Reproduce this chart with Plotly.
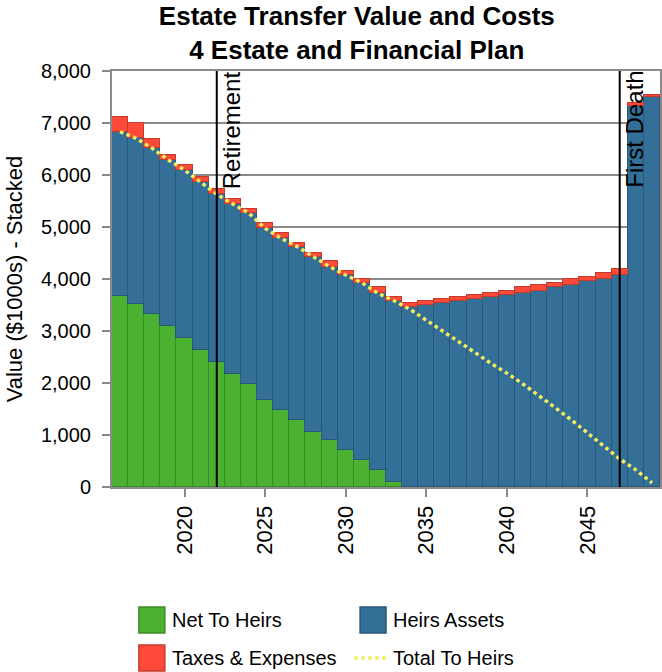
import plotly.graph_objects as go

# Plan years and stacked components ($1000s)
years = list(range(2016, 2050))

net_to_heirs = [3670, 3520, 3327, 3096, 2865, 2635, 2404, 2173, 1981, 1673,
                1475, 1288, 1058, 904, 712, 519, 327, 96, 0, 0,
                0, 0, 0, 0, 0, 0, 0, 0, 0, 0,
                0, 0, 0, 0]

heirs_assets = [3163, 3186, 3186, 3192, 3231, 3236, 3225, 3269, 3282, 3301,
                3307, 3334, 3371, 3333, 3365, 3410, 3397, 3487, 3468, 3506,
                3545, 3583, 3621, 3660, 3698, 3737, 3775, 3852, 3890, 3968,
                4006, 4083, 7327, 7506]

taxes_expenses = [277, 300, 173, 97, 96, 97, 102, 96, 83, 97,
                  109, 76, 77, 115, 83, 77, 128, 77, 77, 77,
                  70, 77, 77, 77, 77, 115, 115, 77, 116, 77,
                  115, 115, 63, 39]

total_to_heirs = [6833, 6706, 6513, 6288, 6096, 5871, 5629, 5442, 5263, 4974,
                  4782, 4622, 4429, 4237, 4077, 3929, 3724, 3583, 3415, 3210,
                  3020, 2810, 2590, 2380, 2190, 1980, 1757, 1525, 1290, 1040,
                  780, 540, 330, 80]

events = [("Retirement", 2022), ("First Death", 2047)]

GREEN, GREEN_EDGE = "#4BB131", "#3C8B2A"
BLUE, BLUE_EDGE = "#346F97", "#285777"
RED, RED_EDGE = "#FF4A3A", "#C63A2C"
YELLOW = "#F4EF5C"
GRID = "#8A8A8A"
FONT = "Liberation Sans, Arial, sans-serif"

fig = go.Figure()
fig.add_trace(go.Bar(x=years, y=net_to_heirs, name="Net To Heirs",
                     marker=dict(color=GREEN, line=dict(color=GREEN_EDGE, width=1.5)),
                     showlegend=False))
fig.add_trace(go.Bar(x=years, y=heirs_assets, name="Heirs Assets",
                     marker=dict(color=BLUE, line=dict(color=BLUE_EDGE, width=1.5)),
                     showlegend=False))
fig.add_trace(go.Bar(x=years, y=taxes_expenses, name="Taxes & Expenses",
                     marker=dict(color=RED, line=dict(color=RED_EDGE, width=1.5)),
                     showlegend=False))
fig.add_trace(go.Scatter(x=years, y=total_to_heirs, name="Total To Heirs",
                         mode="lines", line=dict(color=YELLOW, width=3.5, dash="dot"),
                         showlegend=False))

# Event markers: vertical rule plus rotated label
for label, yr in events:
    fig.add_shape(type="line", xref="x", yref="paper", x0=yr, x1=yr, y0=0, y1=1,
                  line=dict(color="black", width=2), layer="above")
    fig.add_annotation(x=yr, y=1, xref="x", yref="paper", text=label,
                       textangle=-90, showarrow=False, xanchor="left", yanchor="top",
                       xshift=-1, yshift=2,
                       font=dict(size=24, color="black", family=FONT))

# Legend drawn in paper space, two columns
L, R, T, B = 112, 662, 71, 487


def px(xp):
    return (xp - L) / (R - L)


def py(yp):
    return (B - yp) / (B - T)


legend_items = [
    ("Net To Heirs", "box", GREEN, GREEN_EDGE, 139, 620),
    ("Heirs Assets", "box", BLUE, BLUE_EDGE, 361, 620),
    ("Taxes & Expenses", "box", RED, RED_EDGE, 139, 658),
    ("Total To Heirs", "line", YELLOW, YELLOW, 355, 658),
]
for text, kind, fill, edge, x0, yc in legend_items:
    if kind == "box":
        fig.add_shape(type="rect", xref="paper", yref="paper",
                      x0=px(x0), x1=px(x0 + 26), y0=py(yc + 13), y1=py(yc - 13),
                      fillcolor=fill, line=dict(color=edge, width=1.5))
        tx = x0 + 31
    else:
        fig.add_shape(type="line", xref="paper", yref="paper",
                      x0=px(x0), x1=px(x0 + 32), y0=py(yc), y1=py(yc),
                      line=dict(color=fill, width=3.5, dash="dot"))
        tx = x0 + 37
    fig.add_annotation(x=px(tx), y=py(yc), xref="paper", yref="paper", text=text,
                       showarrow=False, xanchor="left", yanchor="middle",
                       font=dict(size=20, color="black", family=FONT))

fig.update_layout(
    width=662, height=672,
    margin=dict(l=L, r=662 - R, t=T, b=672 - B),
    paper_bgcolor="white", plot_bgcolor="white",
    barmode="stack", bargap=0,
    font=dict(family=FONT, color="black"),
    title=dict(text="<b>Estate Transfer Value and Costs<br>4 Estate and Financial Plan</b>",
               x=0.539, xanchor="center", xref="container",
               y=1 - 25 / 672, yanchor="middle", yref="container",
               font=dict(size=26, color="black", family=FONT)),
    xaxis=dict(range=[2015.5, 2049.5], tickvals=[2020, 2025, 2030, 2035, 2040, 2045],
               tickangle=-90, ticks="outside", ticklen=8, tickwidth=2, tickcolor=GRID,
               showline=True, linecolor=GRID, linewidth=2, mirror=True,
               showgrid=False, zeroline=False,
               tickfont=dict(size=22, color="black", family=FONT)),
    yaxis=dict(range=[0, 8000], dtick=1000, tickformat=",",
               ticks="outside", ticklen=8, tickwidth=2, tickcolor=GRID,
               ticklabelstandoff=7,
               showline=True, linecolor=GRID, linewidth=2, mirror=True,
               showgrid=True, gridcolor=GRID, gridwidth=2, zeroline=False,
               title=dict(text="Value ($1000s) - Stacked", standoff=12,
                          font=dict(size=22, color="black", family=FONT)),
               tickfont=dict(size=20, color="black", family=FONT)),
)

fig.write_html("out.html")
